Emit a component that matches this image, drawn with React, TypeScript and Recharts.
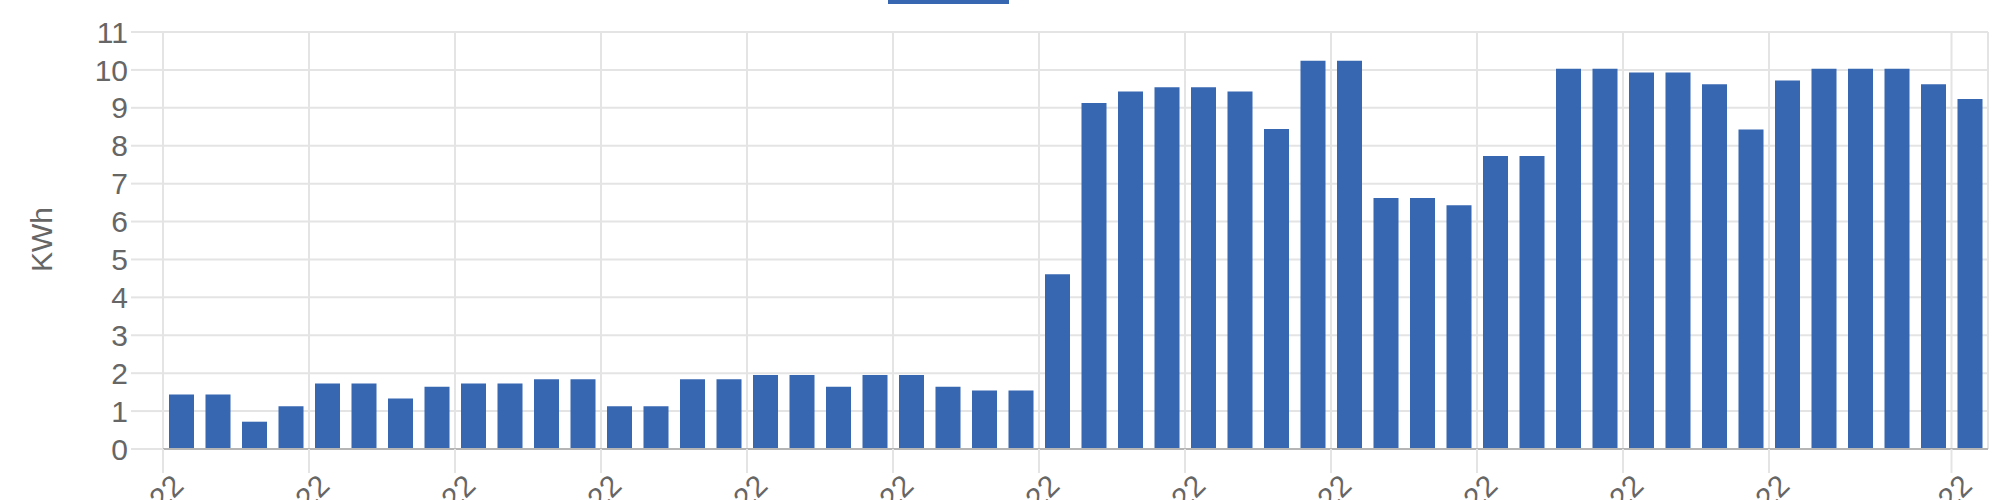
import React from 'react';
import { BarChart, Bar, XAxis, YAxis, CartesianGrid, Legend, Label } from 'recharts';

const dates = [
  '01/01/2022', '01/02/2022', '01/03/2022', '01/04/2022', '01/05/2022', '01/06/2022', '01/07/2022', '01/08/2022', '01/09/2022', '01/10/2022',
  '01/11/2022', '01/12/2022', '01/13/2022', '01/14/2022', '01/15/2022', '01/16/2022', '01/17/2022', '01/18/2022', '01/19/2022', '01/20/2022',
  '01/21/2022', '01/22/2022', '01/23/2022', '01/24/2022', '01/25/2022', '01/26/2022', '01/27/2022', '01/28/2022', '01/29/2022', '01/30/2022',
  '01/31/2022', '02/01/2022', '02/02/2022', '02/03/2022', '02/04/2022', '02/05/2022', '02/06/2022', '02/07/2022', '02/08/2022', '02/09/2022',
  '02/10/2022', '02/11/2022', '02/12/2022', '02/13/2022', '02/14/2022', '02/15/2022', '02/16/2022', '02/17/2022', '02/18/2022', '02/19/2022',
];

const kwh = [
  1.44, 1.44, 0.72, 1.13, 1.73, 1.73, 1.33, 1.64, 1.73, 1.73,
  1.84, 1.84, 1.13, 1.13, 1.84, 1.84, 1.95, 1.95, 1.64, 1.95,
  1.95, 1.64, 1.54, 1.54, 4.61, 9.13, 9.43, 9.54, 9.54, 9.43,
  8.44, 10.24, 10.24, 6.62, 6.62, 6.43, 7.73, 7.73, 10.03, 10.03,
  9.93, 9.93, 9.62, 8.43, 9.72, 10.03, 10.03, 10.03, 9.62, 9.23,
];

const yTicks = [0, 1, 2, 3, 4, 5, 6, 7, 8, 9, 10, 11];
const xTickIndices = [0, 4, 8, 12, 16, 20, 24, 28, 32, 36, 40, 44, 49];
const seriesName = 'KWh';
const yAxisTitle = 'KWh';

const data = dates.map((d, i) => ({ date: d, idx: i, kwh: kwh[i] }));

const FONT = '"Liberation Sans", Arial, Helvetica, sans-serif';
const TEXT = '#666';
const GRID = '#e4e4e4';
const BAR = '#3767b0';

const XTick = (props: any) => {
  const { x, y, payload } = props;
  const label = dates[payload.value] ?? '';
  const ax = x + 15;
  const ay = y + 5;
  return (
    <text
      x={ax}
      y={ay}
      transform={`rotate(-45 ${ax} ${ay})`}
      textAnchor="end"
      dominantBaseline="central"
      fontSize={30}
      fontFamily={FONT}
      fill={TEXT}
    >
      {label}
    </text>
  );
};

const YTitle = (props: any) => {
  const vb = props.viewBox || {};
  const cx = (vb.x || 0) + 41.5;
  const cy = (vb.y || 0) + (vb.height || 0) / 2 - 1;
  return (
    <text
      x={cx}
      y={cy}
      transform={`rotate(-90 ${cx} ${cy})`}
      textAnchor="middle"
      dominantBaseline="central"
      fontSize={30}
      fontFamily={FONT}
      fill={TEXT}
    >
      {yAxisTitle}
    </text>
  );
};

const LegendContent = (props: any) => {
  const items = props.payload || [];
  return (
    <div style={{ display: 'flex', alignItems: 'center' }}>
      {items.map((e: any) => (
        <div key={e.value} style={{ display: 'flex', alignItems: 'center' }}>
          <div style={{ width: 121, height: 30, background: e.color }} />
          <span style={{ marginLeft: 25, fontSize: 30, fontFamily: FONT, color: TEXT, lineHeight: '30px' }}>
            {e.value}
          </span>
        </div>
      ))}
    </div>
  );
};

export default function App() {
  return (
    <div
      style={{
        position: 'fixed',
        left: 0,
        top: 0,
        width: 2000,
        height: 500,
        overflow: 'hidden',
        background: '#fff',
      }}
    >
      <div style={{ marginTop: -40 }}>
        <BarChart
          width={2000}
          height={560}
          data={data}
          margin={{ top: 72, right: 12, bottom: 0, left: 0 }}
          style={{ fontFamily: FONT }}
        >
          <CartesianGrid xAxisId="t" stroke={GRID} strokeWidth={2} />
          <XAxis xAxisId="c" dataKey="date" type="category" hide height={0} />
          <XAxis
            xAxisId="t"
            dataKey="idx"
            type="number"
            domain={[0, 50]}
            ticks={xTickIndices}
            interval={0}
            height={71}
            tickSize={24}
            axisLine={{ stroke: '#b5b5b5', strokeWidth: 2 }}
            tickLine={{ stroke: GRID, strokeWidth: 2 }}
            tick={<XTick />}
          />
          <YAxis
            domain={[0, 11]}
            ticks={yTicks}
            interval={0}
            width={163}
            tickSize={32}
            tickMargin={3}
            axisLine={false}
            tickLine={{ stroke: GRID, strokeWidth: 2 }}
            tick={{ fontSize: 30, fill: TEXT, fontFamily: FONT }}
            label={<Label content={<YTitle />} />}
          />
          <Legend
            verticalAlign="middle"
            align="center"
            layout="horizontal"
            wrapperStyle={{ top: 14, left: 888, width: 'auto' }}
            content={<LegendContent />}
          />
          <Bar
            xAxisId="c"
            dataKey="kwh"
            name={seriesName}
            fill={BAR}
            barSize={25}
            isAnimationActive={false}
          />
        </BarChart>
      </div>
    </div>
  );
}
